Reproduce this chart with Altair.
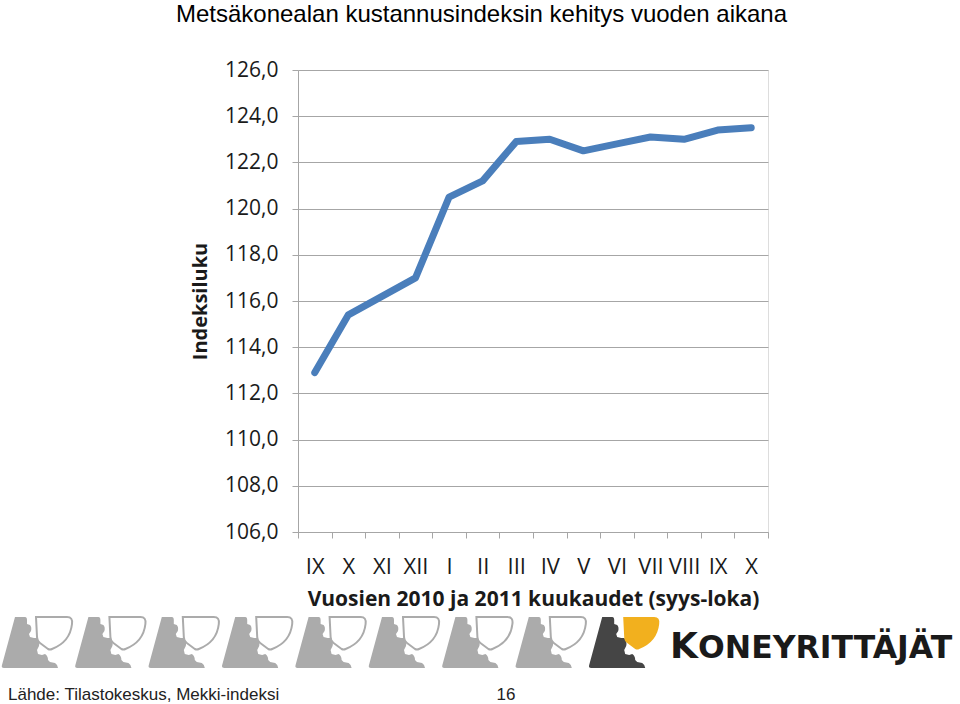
import altair as alt
import pandas as pd

# ---------------- data ----------------
months = ["IX", "X", "XI", "XII", "I", "II", "III", "IV", "V", "VI", "VII", "VIII", "IX", "X"]
values = [112.9, 115.4, 116.2, 117.0, 120.5, 121.2, 122.9, 123.0, 122.5, 122.8, 123.1, 123.0, 123.4, 123.5]
y_ticks = [106, 108, 110, 112, 114, 116, 118, 120, 122, 124, 126]

title_text = "Metsäkonealan kustannusindeksin kehitys vuoden aikana"
x_title = "Vuosien 2010 ja 2011 kuukaudet (syys-loka)"
y_title = "Indeksiluku"
footer_text = "Lähde: Tilastokeskus, Mekki-indeksi"
page_text = "16"
logo_k = "K"
logo_rest = "ONEYRITTÄJÄT"
icon_ids = [0, 1, 2, 3, 4, 5, 6, 7, 8]

df = pd.DataFrame({"idx": list(range(len(months))), "month": months, "value": values})

# ---------------- layout ----------------
W, H = 470, 462
PAD_L, PAD_T = 298, 70
GRID = "#a6a6a6"
LABEL_FONT = "Open Sans"

label_expr = "[" + ",".join("'%s'" % m for m in months) + "][datum.value]"

line = alt.Chart(df).mark_line(
    color="#4a7ebb", strokeWidth=7, strokeCap="round", strokeJoin="round"
).encode(
    x=alt.X(
        "idx:O",
        bandPosition=0.5,
        scale=alt.Scale(type="band", paddingInner=0, paddingOuter=0),
        axis=alt.Axis(
            labelExpr=label_expr, labelAngle=0, tickBand="extent", grid=False,
            domainColor=GRID, tickColor=GRID, tickSize=6, labelPadding=18,
            labelFont=LABEL_FONT, labelFontSize=22, labelColor="#1a1a1a",
            title=x_title, titleFont=LABEL_FONT, titleFontSize=21, titleFontWeight="bold",
            titleColor="#1a1a1a", titlePadding=11,
        ),
    ),
    y=alt.Y(
        "value:Q",
        scale=alt.Scale(domain=[106, 126], nice=False, zero=False),
        axis=alt.Axis(
            values=y_ticks, labelExpr="replace(format(datum.value, '.1f'), '.', ',')",
            grid=True, gridColor=GRID, gridWidth=1, domainColor=GRID, tickColor=GRID,
            tickSize=6, labelPadding=14, labelFont=LABEL_FONT, labelFontSize=21,
            labelColor="#1a1a1a", title=None,
        ),
    ),
)


def text_layer(txt, x, y, **kw):
    return alt.Chart(alt.Data(values=[{"t": txt}])).mark_text(**kw).encode(
        text="t:N", x=alt.value(x), y=alt.value(y)
    )


title = text_layer(title_text, 481.5 - PAD_L, 21.5 - PAD_T, font="Liberation Sans", fontSize=24,
                   align="center", baseline="alphabetic", color="black")
ytitle = text_layer(y_title, 201 - PAD_L, 301.5 - PAD_T, font=LABEL_FONT, fontSize=20,
                    fontWeight="bold", angle=270, align="center", baseline="middle", color="#1a1a1a")
footer = text_layer(footer_text, 8 - PAD_L, 700 - PAD_T, font="Liberation Sans", fontSize=17,
                    align="left", baseline="alphabetic", color="#222222")
page = text_layer(page_text, 506 - PAD_L, 700 - PAD_T, font="Liberation Sans", fontSize=17,
                  align="center", baseline="alphabetic", color="#222222")
logo1 = text_layer(logo_k, 670 - PAD_L, 658 - PAD_T, font="DejaVu Sans", fontSize=36,
                   fontWeight="bold", align="left", baseline="alphabetic", color="#1a1a1a")
logo2 = text_layer(logo_rest, 698 - PAD_L, 658 - PAD_T, font="DejaVu Sans", fontSize=31.5,
                   fontWeight="bold", align="left", baseline="alphabetic", color="#1a1a1a")


# ---- decorative icons (custom symbol paths, local pixel coords -> unit box) ----
def to_unit(cmds, c=37.5, s=37.5):
    out = []
    for tok in cmds:
        if isinstance(tok, str):
            out.append(tok)
        else:
            x, y = tok
            out.append("%.3f,%.3f" % ((x - c) / s, (y - c) / s))
    return " ".join(out)


gear = to_unit(["M", (15, 12), "L", (25, 12), "Q", (27, 12), (27, 15), "L", (27, 19), "L", (30, 20),
                "Q", (32, 22), (31, 26), "L", (29, 29), "L", (30, 32), "L", (34, 33), "L", (37, 33),
                "Q", (40, 36), (39, 41), "L", (37, 45), "L", (38, 49), "L", (42, 50), "L", (45, 49),
                "Q", (48, 51), (48, 55), "L", (50, 57), "L", (55, 58), "Q", (58, 60), (58, 63),
                "L", (4, 63), "Q", (1, 63), (2, 60), "Z"])
shield = to_unit(["M", (36, 12), "L", (67, 12), "Q", (73, 12), (72, 19), "Q", (70, 37), (52, 44),
                  "Q", (50, 45), (48, 44), "L", (40, 38), "Q", (37, 36), (37, 32), "Z"])

icons = pd.DataFrame({"i": icon_ids})
icon_base = alt.Chart(icons).transform_calculate(
    px="datum.i * 73.4 + 37.5 - %d" % PAD_L
)
gears = icon_base.mark_point(shape=gear, size=5625, filled=True, opacity=1, strokeWidth=0).encode(
    x=alt.X("px:Q", scale=None, axis=None),
    y=alt.value(642.5 - PAD_T),
    color=alt.condition("datum.i == 8", alt.value("#454545"), alt.value("#ababab")),
)
shields = icon_base.transform_filter("datum.i < 8").mark_point(
    shape=shield, size=5625, filled=False, opacity=1, strokeWidth=2
).encode(
    x=alt.X("px:Q", scale=None, axis=None),
    y=alt.value(642.5 - PAD_T),
    color=alt.value("#ababab"),
)
yshield = icon_base.transform_filter("datum.i == 8").mark_point(
    shape=shield, size=5625, filled=True, opacity=1, strokeWidth=0
).encode(
    x=alt.X("px:Q", scale=None, axis=None),
    y=alt.value(642.5 - PAD_T),
    color=alt.value("#f2b01e"),
)

chart = alt.layer(
    line, title, ytitle, footer, page, logo1, logo2, gears, shields, yshield
).resolve_scale(x="independent").properties(
    width=W, height=H,
    autosize=alt.AutoSizeParams(type="none"),
    padding={"left": PAD_L, "top": PAD_T, "right": 960 - PAD_L - W, "bottom": 704 - PAD_T - H},
).configure_view(stroke=None).configure(background="white")

chart.save("out.html", embed_options={"renderer": "svg", "actions": False})
